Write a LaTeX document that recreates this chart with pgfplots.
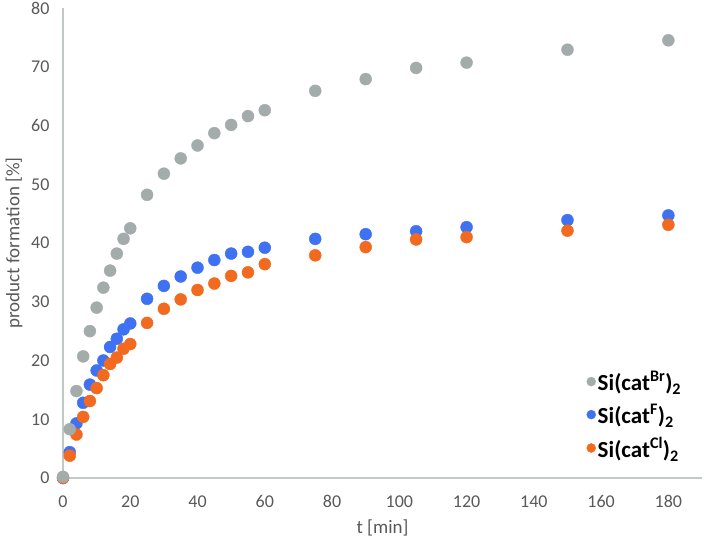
\documentclass[border=0pt]{standalone}
\usepackage{pgfplots}
\pgfplotsset{compat=1.18}
\usepackage{fontspec}
\setmainfont{Carlito}
\definecolor{cgray}{HTML}{A3ACAB}
\definecolor{cblue}{HTML}{3F72F2}
\definecolor{corange}{HTML}{F26A1F}
\definecolor{caxis}{HTML}{C3C9C8}
\definecolor{ctext}{HTML}{595959}
\begin{document}
\begin{tikzpicture}[x=1pt,y=1pt]
\path[use as bounding box] (0,0) rectangle (704,544);
\begin{axis}[
  at={(63pt,66pt)}, anchor=south west,
  scale only axis, width=639pt, height=470pt,
  xmin=0, xmax=190, ymin=0, ymax=80,
  xtick={0,20,...,180}, ytick={0,10,...,80},
  axis x line=bottom, axis y line=left,
  axis line style={caxis, line width=1.5pt, -},
  major tick length=0pt,
  tick label style={font=\fontsize{18}{21}\selectfont, text=ctext},
  /pgf/number format/assume math mode=true,
  xticklabel style={yshift=-14pt},
  yticklabel style={xshift=-10pt},
  xlabel={t [min]}, ylabel={product formation [\%]},
  label style={font=\fontsize{19}{22}\selectfont, text=ctext},
  xlabel style={yshift=-5pt},
  ylabel style={yshift=2pt},
  legend style={draw=none, fill=none, at={(0.895,0.134)}, anchor=center,
    font=\fontsize{23}{26}\selectfont\bfseries, row sep=8pt,
    legend cell align=left},
  clip=false,
]
\addlegendimage{only marks, mark=*, mark size=4.5pt, cgray, mark options={draw=cgray, fill=cgray}}
\addlegendentry{Si(cat\textsuperscript{Br})\textsubscript{2}}
\addlegendimage{only marks, mark=*, mark size=4.5pt, cblue, mark options={draw=cblue, fill=cblue}}
\addlegendentry{Si(cat\textsuperscript{F})\textsubscript{2}}
\addlegendimage{only marks, mark=*, mark size=4.5pt, corange, mark options={draw=corange, fill=corange}}
\addlegendentry{Si(cat\textsuperscript{Cl})\textsubscript{2}}
\addplot[forget plot, cblue, only marks, mark=*, mark size=6pt, mark options={draw=cblue, fill=cblue}] coordinates {
(0,0) (2,4.4) (4,9.3) (6,12.8) (8,15.9) (10,18.3) (12,20.0) (14,22.3) (16,23.7) (18,25.3) (20,26.3)
(25,30.5) (30,32.7) (35,34.3) (40,35.8) (45,37.1) (50,38.2) (55,38.5) (60,39.2)
(75,40.7) (90,41.5) (105,42.0) (120,42.7) (150,43.9) (180,44.7)};
\addplot[forget plot, corange, only marks, mark=*, mark size=6pt, mark options={draw=corange, fill=corange}] coordinates {
(0,0) (2,3.8) (4,7.4) (6,10.4) (8,13.1) (10,15.3) (12,17.5) (14,19.4) (16,20.5) (18,22.0) (20,22.8)
(25,26.4) (30,28.8) (35,30.4) (40,32.0) (45,33.1) (50,34.4) (55,35.0) (60,36.4)
(75,37.9) (90,39.3) (105,40.6) (120,41.0) (150,42.1) (180,43.1)};
\addplot[forget plot, cgray, only marks, mark=*, mark size=6pt, mark options={draw=cgray, fill=cgray}] coordinates {
(0,0.2) (2,8.3) (4,14.8) (6,20.7) (8,25.0) (10,29.0) (12,32.4) (14,35.3) (16,38.2) (18,40.7) (20,42.5)
(25,48.2) (30,51.8) (35,54.4) (40,56.6) (45,58.7) (50,60.1) (55,61.6) (60,62.6)
(75,65.9) (90,67.9) (105,69.8) (120,70.7) (150,72.9) (180,74.5)};
\end{axis}
\end{tikzpicture}
\end{document}
